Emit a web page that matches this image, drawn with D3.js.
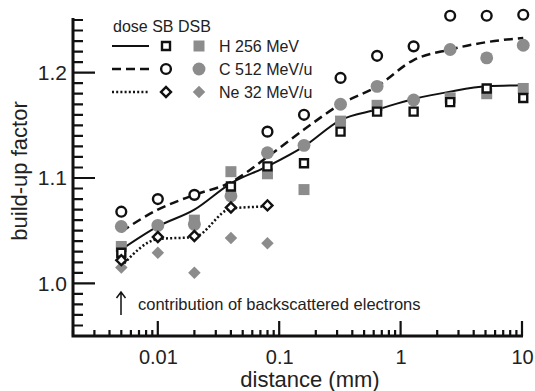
<!DOCTYPE html>
<html>
<head>
<meta charset="utf-8">
<script src="https://cdn.jsdelivr.net/npm/d3@7"></script>
</head>
<body style="margin:0;background:#fff">
<svg id="chart" width="535" height="391" style="display:block;font-family:'Liberation Sans', Arial, sans-serif"></svg>
<script>
// ---- data ----
const distances = [0.005, 0.01, 0.02, 0.04, 0.08, 0.16, 0.32, 0.64, 1.28, 2.56, 5.12, 10.24];
const doseH  = [1.032, 1.054, 1.070, 1.095, 1.111, 1.130, 1.155, 1.165, 1.175, 1.182, 1.187, 1.188];
const doseC  = [1.049, 1.070, 1.084, 1.096, 1.120, 1.146, 1.170, 1.187, 1.212, 1.222, 1.229, 1.233];
const doseNe = [1.016, 1.042, 1.044, 1.071, 1.073, null, null, null, null, null, null, null];
const sbH    = [1.029, null, null, 1.092, 1.111, 1.114, 1.144, 1.163, 1.163, 1.172, 1.185, 1.176];
const sbC    = [1.068, 1.080, 1.084, null, 1.144, 1.160, 1.195, 1.216, 1.225, 1.254, 1.254, 1.255];
const sbNe   = [1.022, 1.044, 1.045, 1.072, 1.074, null, null, null, null, null, null, null];
const dsbH   = [1.035, null, 1.060, 1.106, 1.104, 1.089, 1.154, 1.169, null, 1.176, 1.180, 1.185];
const dsbC   = [1.054, 1.055, 1.056, 1.083, 1.124, 1.131, 1.170, 1.187, 1.174, 1.222, 1.214, 1.226];
const dsbNe  = [1.015, 1.029, 1.010, 1.043, 1.038, null, null, null, null, null, null, null];
const xMajorTicks = [0.01, 0.1, 1, 10];
const xTickLabels = ["0.01", "0.1", "1", "10"];
const yMajorTicks = [1.0, 1.1, 1.2];
const yTickLabels = ["1.0", "1.1", "1.2"];
const legendNames = ["H 256 MeV", "C 512 MeV/u", "Ne 32 MeV/u"];
const legendTitle = "dose SB DSB";
const xTitle = "distance (mm)";
const yTitle = "build-up factor";
const annotation = "contribution of backscattered electrons";

// ---- setup ----
const svg = d3.select("#chart");
const x = d3.scaleLog().domain([0.002, 10]).range([73, 522]);
const y = d3.scaleLinear().domain([0.95, 1.25]).range([336, 20]);
const GRAY = "#8c8c8c";
const INK = "#111";
const X0 = 73, Y0 = 336;

const xMinor = [];
[0.001, 0.01, 0.1, 1].forEach(d => { for (let k = 2; k <= 9; k++) { const v = +(d * k).toPrecision(3); if (v >= 0.002 && v <= 10) xMinor.push(v); } });
const yMinor = d3.range(0, 31).map(i => +(0.95 + i * 0.01).toFixed(2)).filter(v => !yMajorTicks.includes(v));

// ---- axis labels through d3.axis ----
const gx = svg.append("g").attr("transform", `translate(0,${Y0})`)
  .call(d3.axisBottom(x).tickValues(xMajorTicks).tickSize(0).tickPadding(14)
    .tickFormat((d, i) => xTickLabels[i]));
gx.select(".domain").remove();
gx.selectAll("text").attr("font-size", 20).attr("fill", "#222").attr("font-family", "Liberation Sans, Arial, sans-serif");

const gy = svg.append("g").attr("transform", `translate(${X0},0)`)
  .call(d3.axisLeft(y).tickValues(yMajorTicks).tickSize(0).tickPadding(6)
    .tickFormat((d, i) => yTickLabels[i]));
gy.select(".domain").remove();
gy.selectAll("text").attr("font-size", 21).attr("fill", "#222").attr("font-family", "Liberation Sans, Arial, sans-serif");

// titles
svg.append("text").attr("x", 310).attr("y", 387).attr("text-anchor", "middle")
  .attr("font-size", 22).attr("fill", "#222").text(xTitle);
svg.append("text").attr("transform", "translate(27,171) rotate(-90)").attr("text-anchor", "middle")
  .attr("font-size", 22).attr("fill", "#222").text(yTitle);

// ---- lines ----
const lineGen = d3.line()
  .defined(d => d[1] != null)
  .x(d => x(d[0])).y(d => y(d[1]))
  .curve(d3.curveMonotoneX);
const lineStyles = [
  { data: doseH, dash: null, w: 2 },
  { data: doseC, dash: "9,5", w: 2.5 },
  { data: doseNe, dash: "2,2.2", w: 2.5 }
];
lineStyles.forEach(s => {
  svg.append("path")
    .attr("d", lineGen(distances.map((d, i) => [d, s.data[i]])))
    .attr("fill", "none").attr("stroke", INK).attr("stroke-width", s.w)
    .attr("stroke-dasharray", s.dash);
});

// ---- markers ----
const sym = { square: d3.symbolSquare, circle: d3.symbolCircle, diamond: d3.symbolSquare };
const openSizes = { square: 64, circle: 75, diamond: 50 };
const fillSizes = { square: 121, circle: 130, diamond: 78 };
function markerTransform(px, py, type) {
  return `translate(${px},${py})` + (type === "diamond" ? " rotate(45)" : "");
}
function drawMarkers(vals, type, filled) {
  svg.append("g").selectAll("path")
    .data(distances.map((d, i) => [d, vals[i]]).filter(d => d[1] != null))
    .join("path")
    .attr("transform", d => markerTransform(x(d[0]), y(d[1]), type))
    .attr("d", d3.symbol(sym[type], filled ? fillSizes[type] : openSizes[type]))
    .attr("fill", filled ? GRAY : "#fff")
    .attr("stroke", filled ? "none" : INK)
    .attr("stroke-width", filled ? 0 : 2.4);
}
drawMarkers(dsbH, "square", true);
drawMarkers(dsbC, "circle", true);
drawMarkers(dsbNe, "diamond", true);
drawMarkers(sbH, "square", false);
drawMarkers(sbC, "circle", false);
drawMarkers(sbNe, "diamond", false);

// ---- legend ----
const lg = svg.append("g").attr("font-size", 16).attr("fill", "#222");
lg.append("text").attr("x", 113).attr("y", 32).text(legendTitle);
const legRows = [
  { y: 46, dash: null, w: 2, type: "square" },
  { y: 69, dash: "9,5", w: 2.5, type: "circle" },
  { y: 92, dash: "2,2.2", w: 2.5, type: "diamond" }
];
legRows.forEach((r, i) => {
  lg.append("line").attr("x1", 112).attr("x2", 149).attr("y1", r.y).attr("y2", r.y)
    .attr("stroke", INK).attr("stroke-width", r.w).attr("stroke-dasharray", r.dash);
  lg.append("path").attr("transform", markerTransform(166, r.y, r.type))
    .attr("d", d3.symbol(sym[r.type], openSizes[r.type]))
    .attr("fill", "#fff").attr("stroke", INK).attr("stroke-width", 2.4);
  lg.append("path").attr("transform", markerTransform(199, r.y, r.type))
    .attr("d", d3.symbol(sym[r.type], fillSizes[r.type]))
    .attr("fill", GRAY);
  lg.append("text").attr("x", 219).attr("y", r.y + 6).text(legendNames[i]);
});

// ---- annotation ----
svg.append("path").attr("d", "M121,315 V292 M116.5,298 L121,292 L125.5,298")
  .attr("fill", "none").attr("stroke", INK).attr("stroke-width", 1.5);
svg.append("text").attr("x", 138).attr("y", 310).attr("font-size", 16.5).attr("fill", "#222").text(annotation);

// ---- axis frame with inward tick marks (positions from the scales) ----
let frame = `M${X0},18 V${Y0} H523`;
const segs = [];
xMinor.forEach(d => segs.push(`M${x(d).toFixed(1)},${Y0} V${Y0 - 6}`));
xMajorTicks.forEach(d => segs.push(`M${x(d).toFixed(1)},${Y0} V${Y0 - 15}`));
yMinor.forEach(d => segs.push(`M${X0},${y(d).toFixed(1)} H${X0 + 10}`));
yMajorTicks.forEach(d => segs.push(`M${X0},${y(d).toFixed(1)} H${X0 + 22}`));
svg.append("path").attr("d", segs.join(" "))
  .attr("fill", "none").attr("stroke", "#111111").attr("stroke-width", 2.2);
svg.append("path").attr("d", frame)
  .attr("fill", "none").attr("stroke", "#111111").attr("stroke-width", 3);
</script>
</body>
</html>
